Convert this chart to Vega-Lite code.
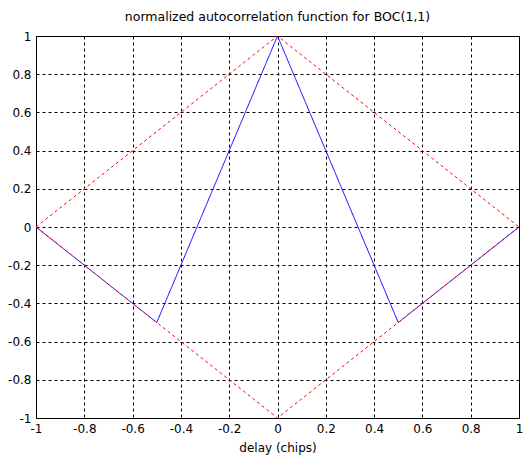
{
  "$schema": "https://vega.github.io/schema/vega-lite/v6.json",
  "width": 483,
  "height": 382,
  "autosize": "none",
  "padding": {"left": 36, "top": 36, "right": 6, "bottom": 39},
  "background": "white",
  "config": {
    "font": "DejaVu Sans",
    "view": {"stroke": "black", "strokeWidth": 1},
    "axis": {
      "grid": true,
      "gridColor": "black",
      "gridOpacity": 1,
      "gridDash": [3, 3],
      "gridWidth": 1,
      "domain": false,
      "ticks": false,
      "labelFont": "DejaVu Sans",
      "labelFontSize": 12,
      "labelColor": "black",
      "titleFont": "DejaVu Sans",
      "titleFontSize": 12,
      "titleFontWeight": "normal",
      "titleColor": "black"
    }
  },
  "title": {
    "text": "normalized autocorrelation function for BOC(1,1)",
    "font": "DejaVu Sans",
    "fontSize": 12.5,
    "fontWeight": "normal",
    "color": "black",
    "offset": 7
  },
  "data": {
    "values": [
      {"series": "boc", "x": -1, "y": 0},
      {"series": "boc", "x": -0.5, "y": -0.5},
      {"series": "boc", "x": 0, "y": 1},
      {"series": "boc", "x": 0.5, "y": -0.5},
      {"series": "boc", "x": 1, "y": 0},
      {"series": "upper", "x": -1, "y": 0},
      {"series": "upper", "x": 0, "y": 1},
      {"series": "upper", "x": 1, "y": 0},
      {"series": "lower", "x": -1, "y": 0},
      {"series": "lower", "x": 0, "y": -1},
      {"series": "lower", "x": 1, "y": 0}
    ]
  },
  "mark": {"type": "line", "strokeWidth": 1, "clip": true},
  "encoding": {
    "x": {
      "field": "x",
      "type": "quantitative",
      "scale": {"domain": [-1, 1], "nice": false, "zero": false},
      "axis": {
        "values": [-1, -0.8, -0.6, -0.4, -0.2, 0, 0.2, 0.4, 0.6, 0.8, 1],
        "labelExpr": "toString(datum.value)",
        "title": "delay (chips)",
        "labelPadding": 5,
        "titlePadding": 8,
        "labelFlush": false
      }
    },
    "y": {
      "field": "y",
      "type": "quantitative",
      "scale": {"domain": [-1, 1], "nice": false, "zero": false},
      "axis": {
        "values": [-1, -0.8, -0.6, -0.4, -0.2, 0, 0.2, 0.4, 0.6, 0.8, 1],
        "labelExpr": "toString(datum.value)",
        "title": null,
        "labelPadding": 5,
        "labelFlush": false
      }
    },
    "color": {
      "field": "series",
      "type": "nominal",
      "scale": {"domain": ["boc", "upper", "lower"], "range": ["#0000ff", "#ff0000", "#ff0000"]},
      "legend": null
    },
    "strokeDash": {
      "field": "series",
      "type": "nominal",
      "scale": {"domain": ["boc", "upper", "lower"], "range": [[1, 0], [3, 3], [3, 3]]},
      "legend": null
    },
    "order": {"field": "x"}
  }
}
